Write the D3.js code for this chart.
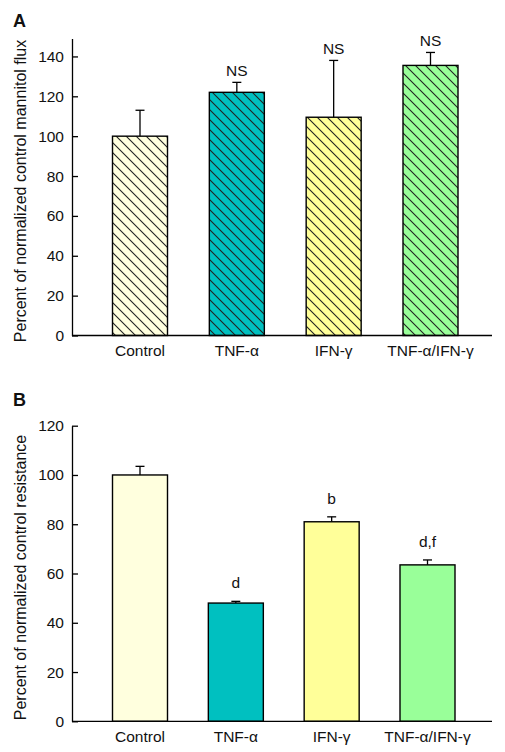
<!DOCTYPE html>
<html>
<head>
<meta charset="utf-8">
<script src="https://cdn.jsdelivr.net/npm/d3@7"></script>
<style>
  body { margin: 0; background: #fff; }
  svg { display: block; }
  text { font-family: Tahoma, "Liberation Sans", Arial, sans-serif; fill: #111; }
</style>
</head>
<body>
<svg id="chart" width="505" height="752"></svg>
<script>
// ---- data ----
const categories = ["Control", "TNF-α", "IFN-γ", "TNF-α/IFN-γ"];
const colors = ["#FFFFDE", "#00C0C0", "#FFFF99", "#99FF99"];

const fluxValues = [100, 122, 109.5, 135.5];
const fluxErrors = [13, 5, 28.5, 6.5];
const fluxLabels = ["", "NS", "NS", "NS"];
const fluxTicks = [0, 20, 40, 60, 80, 100, 120, 140];

const resistValues = [100, 48, 81, 63.5];
const resistErrors = [3.5, 0.7, 2, 2];
const resistLabels = ["", "d", "b", "d,f"];
const resistTicks = [0, 20, 40, 60, 80, 100, 120];

const svg = d3.select("#chart");

// hatch patterns
const defs = svg.append("defs");
colors.forEach((c, i) => {
  const p = defs.append("pattern")
    .attr("id", "hatch" + i)
    .attr("patternUnits", "userSpaceOnUse")
    .attr("width", 10).attr("height", 10);
  p.append("rect").attr("width", 10).attr("height", 10).attr("fill", c);
  p.append("path")
    .attr("d", "M0,0L10,10M-2,8L2,12M8,-2L12,2")
    .attr("stroke", "#222").attr("stroke-width", 1.1);
});

function panel(opts) {
  const { letter, letterY, values, errors, labels, ticks, yDomain, yRange, xRange,
          title, hatched, labelGap, catY } = opts;
  const axisX = 72, axisRight = 492;
  const x = d3.scalePoint().domain(categories).range(xRange);
  const y = d3.scaleLinear().domain(yDomain).range(yRange);
  const bw = 55;
  const g = svg.append("g");

  // panel letter
  g.append("text").attr("x", 13).attr("y", letterY)
    .attr("font-size", 18).attr("font-weight", "bold")
    .style("font-family", "'Liberation Sans', Arial, sans-serif")
    .text(letter);

  // bars
  g.selectAll("rect.bar").data(values).enter().append("rect")
    .attr("x", (d, i) => x(categories[i]) - bw / 2)
    .attr("y", d => y(d))
    .attr("width", bw)
    .attr("height", d => y(0) - y(d))
    .attr("fill", (d, i) => hatched ? "url(#hatch" + i + ")" : colors[i])
    .attr("stroke", "#000").attr("stroke-width", 1.4);

  // error bars
  values.forEach((v, i) => {
    const cx = x(categories[i]);
    g.append("line").attr("x1", cx).attr("x2", cx)
      .attr("y1", y(v)).attr("y2", y(v + errors[i]))
      .attr("stroke", "#000").attr("stroke-width", 1.3);
    g.append("line").attr("x1", cx - 4.5).attr("x2", cx + 4.5)
      .attr("y1", y(v + errors[i])).attr("y2", y(v + errors[i]))
      .attr("stroke", "#000").attr("stroke-width", 1.3);
    if (labels[i]) {
      g.append("text").attr("x", cx).attr("y", y(v + errors[i]) - labelGap)
        .attr("text-anchor", "middle").attr("font-size", 15.5)
        .text(labels[i]);
    }
  });

  // y axis
  const ax = g.append("g").attr("transform", `translate(${axisX},0)`)
    .call(d3.axisLeft(y).tickValues(ticks).tickSize(-6).tickSizeOuter(0).tickPadding(8));
  ax.select(".domain").attr("stroke", "#000").attr("stroke-width", 1.3);
  ax.selectAll(".tick line").attr("stroke", "#000").attr("stroke-width", 1.3);
  ax.selectAll(".tick text").attr("font-size", 15.5).attr("fill", "#111")
    .style("font-family", "Tahoma, 'Liberation Sans', Arial, sans-serif");

  // x baseline
  g.append("line").attr("x1", axisX).attr("x2", axisRight)
    .attr("y1", y(0)).attr("y2", y(0))
    .attr("stroke", "#000").attr("stroke-width", 1.3);

  // category labels
  categories.forEach((c, i) => {
    g.append("text").attr("x", x(c)).attr("y", y(0) + catY)
      .attr("text-anchor", "middle").attr("font-size", 15.5).text(c);
  });

  // y title
  const mid = (yRange[0] + yRange[1]) / 2 + 4;
  g.append("text")
    .attr("transform", `translate(26,${mid}) rotate(-90)`)
    .attr("text-anchor", "middle").attr("font-size", 16)
    .text(title);
}

panel({
  letter: "A", letterY: 27,
  values: fluxValues, errors: fluxErrors, labels: fluxLabels, ticks: fluxTicks,
  yDomain: [0, 149], yRange: [335.5, 38.5], xRange: [140, 430.5],
  title: "Percent of normalized control mannitol flux",
  hatched: true, labelGap: 6, catY: 20
});

panel({
  letter: "B", letterY: 406,
  values: resistValues, errors: resistErrors, labels: resistLabels, ticks: resistTicks,
  yDomain: [0, 120], yRange: [721.3, 425.7], xRange: [140, 427.5],
  title: "Percent of normalized control resistance",
  hatched: false, labelGap: 13, catY: 21
});
</script>
</body>
</html>
